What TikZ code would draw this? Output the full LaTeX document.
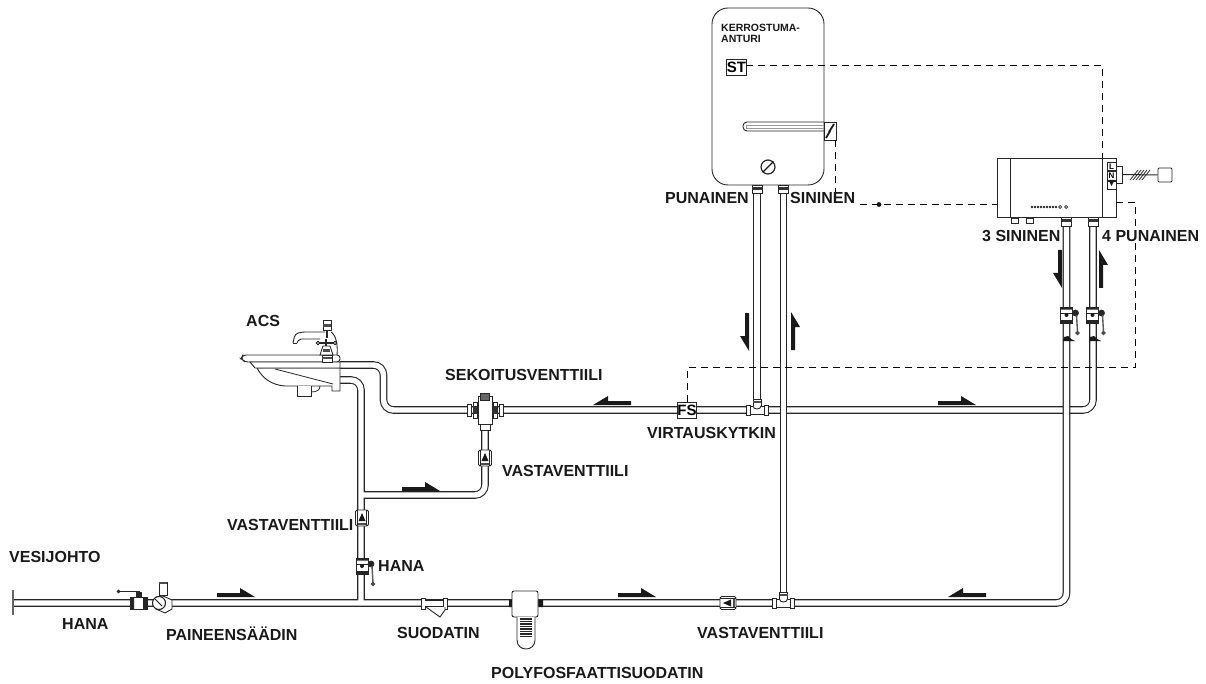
\documentclass[tikz,border=0pt]{standalone}
\usepackage{fontspec}
\setmainfont{Liberation Sans}
\usetikzlibrary{positioning}

\tikzset{
  pipe/.style={draw=black!85, line width=1.1pt, double=white, double distance=5.4pt, rounded corners=10pt},
  signal/.style={draw=black, line width=1pt, dash pattern=on 7pt off 5pt},
  part/.style={draw=black!85, line width=.9pt, fill=white},
  label/.style={font=\fontsize{16}{16}\selectfont\bfseries, inner sep=0pt, anchor=west, text=black!90},
  tag/.style={part, inner sep=0pt, font=\fontsize{15}{15}\selectfont\bfseries},
  term/.style={tag, font=\fontsize{8}{8}\selectfont\bfseries, minimum width=9pt, minimum height=8.5pt},
  pics/flowarrow/.style={code={
    \fill[black!90] (0,0) -- (0,-4) -- (23,-4) -- (23,-9) -- (38,0) -- cycle;
  }},
  pics/checkvalve/.style={code={
    \draw[part, rounded corners=1.5pt] (-6.5,-8) rectangle (6.5,8);
    \draw[line width=1.2pt, black!85] (-4.5,-8) -- (-4.5,8) (4.5,-8) -- (4.5,8);
    \fill[black!90] (0,-5) -- (3.5,3) -- (-3.5,3) -- cycle;
    \fill[black!70] (-4,4.5) rectangle (4,6.5);
  }},
  pics/ballvalve/.style={code={
    \draw[part] (-6,-8) rectangle (6,8);
    \fill[black!85] (-6,-8) rectangle (6,-5.5) (-6,5) rectangle (6,8);
    \draw[line width=.7pt, black!85] (-6,-2) -- (6,-2);
    \fill[black!90] (0,0) circle (2);
    \fill[black!85] (9,-2) circle (3.4);
    \draw[line width=1.4pt, black!65] (10,0) -- (11,17);
    \draw[fill=white, black!70, line width=.8pt] (11,18) circle (1.8);
  }},
  pics/teefit/.style={code={
    \draw[part] (-4,-11) rectangle (4,-2);
    \fill[black!70] (-4,-9) rectangle (4,-7);
    \fill[white] (-11,-4) rectangle (11,4);
    \draw[part] (-11,-5) rectangle (-7,5);
    \draw[part] (7,-5) rectangle (11,5);
    \draw[line width=.9pt, black!85] (-7,-4) -- (-4,-4) (4,-4) -- (7,-4) (-7,4) -- (7,4);
    \draw[line width=.9pt, black!85] (-4,-4) .. controls (-4,0) and (4,0) .. (4,-4);
  }},
}

\begin{document}
\begin{tikzpicture}[x=1pt, y=-1pt]
  \useasboundingbox (0,0) rectangle (1206,684);

  % Define pipe points
  \coordinate (inlet) at (13,603);
  \coordinate (inletA) at (13,590);
  \coordinate (inletB) at (13,615);
  \coordinate (hotout) at (340,365);
  \coordinate (hotdown) at (383.5,365);
  \coordinate (hotrun) at (383.5,410);
  \coordinate (hotend) at (1093,410);
  \coordinate (hotup) at (1093,220);
  \coordinate (coldout) at (340,380);
  \coordinate (colddown) at (361,380);
  \coordinate (coldtee) at (361,603);
  \coordinate (bypass) at (361,495);
  \coordinate (bypassbend) at (485,495);
  \coordinate (mixer) at (485,410);
  \coordinate (coldend) at (1066.5,603);
  \coordinate (coldup) at (1066.5,220);
  \coordinate (tankred) at (757,190);
  \coordinate (tankblue) at (783.5,190);
  \coordinate (tee1) at (757,410);
  \coordinate (tee2) at (783.5,603);

  % Define pipes
  \draw[pipe] (hotout) -- (hotdown) -- (hotrun) -- (hotend) -- (hotup);
  \draw[pipe] (inlet) -- (coldend) -- (coldup)
    (coldout) -- (colddown) -- (coldtee)
    (bypass) -- (bypassbend) -- (mixer);
  \draw[pipe] (tankred) -- (tee1);
  \draw[pipe] (tankblue) -- (tee2);
  \draw[line width=1.2pt, black!60] (inletA) -- (inletB);

  % Define tank
  \node[part, rounded corners=16pt, minimum width=112pt, minimum height=177pt] (tank) at (768,96.5) {};
  \node[tag, minimum width=19pt, minimum height=16pt] (st) at (736.5,67) {ST};
  \node[label, font=\fontsize{10.5}{11}\selectfont\bfseries, align=left, anchor=north west] (sensor) at (721,24) {KERROSTUMA-\\ANTURI};
  \draw[line width=.9pt, black!85, rounded corners=4pt] (824,122) -- (743,122) -- (743,131) -- (824,131);
  \draw[line width=.9pt, black!40] (824,125) -- (746,125) -- (746,128.5) -- (824,128.5);
  \node[part, minimum width=12pt, minimum height=18pt, inner sep=0pt] (heater) at (830,131) {};
  \draw[line width=1.8pt, black!90] (826,138) -- (830,131) (829,132) -- (834,124);
  \node[part, circle, minimum size=14pt, inner sep=0pt, line width=1.2pt] (gauge) at (768,167) {};
  \draw[line width=1.2pt, black!90] (gauge.south west) -- (gauge.north east);
  \foreach \x in {757,783.5} {
    \draw[part] (\x-5,185) rectangle (\x+5,193);
    \fill[black!80] (\x-5,187) rectangle (\x+5,190);
  }

  % Define control unit
  \node[part, minimum width=119pt, minimum height=59pt, inner sep=0pt] (ctrl) at (1056.5,187.5) {};
  \draw[line width=.9pt, black!85] (1010,158) -- (1010,217) (1102,158) -- (1102,217);
  \node[part, minimum width=6pt, minimum height=17pt, inner sep=0pt] (loop) at (1119,174.5) {};
  \node[term] (termL) at (1111.5,166.5) {L};
  \node[term, below=0pt of termL] (termN) {N};
  \node[term, below=0pt of termN] (termE) {};
  \fill[black!90] (1108.5,180) -- (1114.5,180) -- (1111.5,186) -- cycle;
  \node[part, rounded corners=1pt, minimum size=14pt, inner sep=0pt] (mains) at (1165,175) {};
  \draw[line width=1pt, black!85] (loop.east) -- (mains.west);
  \foreach \i in {0,...,4} {
    \draw[line width=.8pt, black!85] (1130+3*\i,180) -- (1138+3*\i,170);
  }
  \foreach \x in {1032,1035,...,1056} {
    \fill[black!85] (\x,207) circle (1.3);
  }
  \draw[black!85, line width=.7pt] (1060,207) circle (1.5) (1066,207) circle (1.5);
  \foreach \x in {1015,1029.5} {
    \draw[part] (\x-3.5,217) rectangle (\x+3.5,223);
    \fill[black!80] (\x-3,217) rectangle (\x+3,219.5);
  }
  \foreach \x in {1066.5,1093} {
    \draw[part] (\x-5,217) rectangle (\x+5,226);
    \fill[black!80] (\x-5,219) rectangle (\x+5,222);
  }

  % Define signal lines
  \coordinate (sigtop) at (1102.5,65.5);
  \coordinate (sigbox) at (1102.5,158);
  \coordinate (sigfs) at (1135.5,202.5);
  \coordinate (sigfs2) at (1135.5,367.5);
  \coordinate (sigfs3) at (687.5,367.5);
  \coordinate (sigheat) at (835.5,192);
  \coordinate (sigleft) at (860,204.5);
  \coordinate (sigctrl) at (997,204.5);
  \coordinate (sigdot) at (879,204.5);
  \coordinate (sigout) at (1116,202.5);
  \coordinate (sigst) at (746,65.5);
  \node[tag, minimum width=19pt, minimum height=16pt] (fs) at (687,410) {FS};
  \draw[signal] (sigst) -- (sigtop) -- (sigbox);
  \draw[signal] (heater.south -| sigheat) -- (sigheat);
  \draw[signal] (sigleft) -- (sigctrl);
  \fill[black!90] (sigdot) circle (2.4);
  \draw[signal] (sigout) -- (sigfs) -- (sigfs2) -- (sigfs3) -- (fs.north -| sigfs3);

  % Define basin and tap
  \draw[part] (257,368) .. controls (263,379) and (272,385) .. (285,386) -- (332,386) -- (332,391) -- (340,391) -- (340,368) -- cycle;
  \draw[part, rounded corners=3pt] (340,355) -- (243,355) -- (241,358.5) -- (245,362) -- (340,362) -- cycle;
  \draw[part] (250,362) -- (255,368) -- (340,368) -- (340,362) -- cycle;
  \draw[line width=.8pt, black!85] (275,369) -- (333,384);
  \draw[part] (297,386) -- (297,396) -- (311,396) -- (311,386);
  \draw[line width=.8pt, black!85] (311,392) .. controls (317,392) and (320,390) .. (320,386);
  \draw[line width=.9pt, black!85, rounded corners=3pt] (293,343) -- (295,334) -- (302,332) -- (325,332);
  \draw[line width=.9pt, black!85, rounded corners=2pt] (297,343) -- (299,339) -- (320,339);
  \draw[line width=.9pt, black!85] (293,343) -- (297,343);
  \draw[part] (323,320) rectangle (331,330);
  \fill[black!70] (323,324) rectangle (331,327);
  \draw[line width=1.4pt, black!85] (327,330) -- (327,338);
  \draw[line width=.9pt, black!85] (331,332) .. controls (336,335) and (338,345) .. (337,355);
  \draw[line width=1.3pt, black!85] (319,343) -- (334,343) (326,339) -- (326,346);
  \draw[black!90, fill=white, line width=.8pt] (318,343) circle (1.8) (335,343) circle (1.8);
  \draw[part] (320,355) -- (323,346) -- (330,346) -- (333,355) -- cycle;
  \fill[black!70] (323,349) rectangle (330,352);
  \draw[part] (322,355) rectangle (332,362);
  \fill[black!70] (322,357) rectangle (332,359);

  % Define mixer
  \node[part, minimum width=14pt, minimum height=28pt, inner sep=0pt] (mix) at (mixer) {};
  \node[part, minimum width=9pt, minimum height=7pt, inner sep=0pt, fill=black!60] (mixtop) at (485,397) {};
  \foreach \x in {-18,14} {
    \draw[part] (485+\x,404) rectangle (485+\x+4,416);
  }
  \foreach \x in {-12,8} {
    \draw[part] (485+\x,402) rectangle (485+\x+4,418);
    \fill[black!80] (485+\x,406) rectangle (485+\x+4,414);
  }
  \draw[part] (480,424) rectangle (490,430);

  % Define valves on cold line
  \pic at (485,458) {checkvalve};
  \pic at (362,518) {checkvalve};
  \pic at (362,566) {ballvalve};
  \pic at (1066.5,315) {ballvalve};
  \pic at (1092.5,315) {ballvalve};
  \fill[black!90] (1063,341) -- (1064,337) -- (1068,336) -- (1071,339) -- (1075,341) -- cycle;
  \fill[black!90] (1089,341) -- (1090,337) -- (1094,336) -- (1097,339) -- (1101,341) -- cycle;
  \pic[rotate=90] at (728,603) {checkvalve};
  \pic at (757,410) {teefit};
  \pic at (783.5,603) {teefit};

  % Define inlet valve and reducer
  \draw[part] (130,597) rectangle (147,609);
  \fill[black!85] (131,597) rectangle (134,609) (143,597) rectangle (147,609);
  \fill[black!85] (136,592) rectangle (142,597);
  \draw[line width=.9pt, black!85] (120,591.5) -- (140,591.5);
  \draw[fill=white, black!85] (118.5,591.5) circle (1.6);
  \draw[part] (159,582) rectangle (167,595);
  \fill[black!70] (159,582) rectangle (167,584);
  \draw[part] (163,596) -- (172,600) -- (172,609) -- (165,613) -- (156,609) -- (153,603) -- (156,597) -- cycle;
  \node[part, circle, minimum size=13pt, inner sep=0pt, line width=1.1pt] (reducer) at (159,603) {};
  \draw[line width=1pt, black!90] (155,599) -- (162,606);

  % Define filters
  \draw[part] (421,598) rectangle (425,609);
  \draw[part] (443,598) rectangle (447,609);
  \fill[white] (425,600) rectangle (443,606);
  \draw[part] (426,607) -- (440,617) -- (445,610) -- (445,607);
  \draw[line width=.9pt, black!85] (425,600) -- (443,600);
  \fill[black!90] (509,600) rectangle (513,607) (538,600) rectangle (543,607);
  \node[part, rounded corners=2pt, minimum width=26pt, minimum height=26pt, inner sep=0pt] (polyhead) at (525,604) {};
  \draw[part] (517,617) -- (517,640) .. controls (517,652) and (535,652) .. (535,640) -- (535,617);
  \foreach \y in {619,621.5,...,636.5} {
    \draw[line width=1.3pt, black!85] (520,\y) -- (532,\y);
  }

  % Define flow arrows
  \pic at (217,597) {flowarrow};
  \pic at (402,491) {flowarrow};
  \pic[xscale=-1] at (631,405) {flowarrow};
  \pic at (938,405) {flowarrow};
  \pic at (618,597) {flowarrow};
  \pic[xscale=-1] at (986,597) {flowarrow};
  \pic[rotate=-90,yscale=-1] at (749,313) {flowarrow};
  \pic[rotate=90,yscale=-1] at (791,350) {flowarrow};
  \pic[rotate=-90,yscale=-1] at (1062,250) {flowarrow};
  \pic[rotate=90,yscale=-1] at (1099,288) {flowarrow};

  % Define labels
  \node[label] (lblacs) at (246,321) {ACS};
  \node[label] (lblmixer) at (445,375) {SEKOITUSVENTTIILI};
  \node[label] (lblcheck1) at (502,471) {VASTAVENTTIILI};
  \node[label] (lblcheck2) at (227,525) {VASTAVENTTIILI};
  \node[label] (lblcheck3) at (697,633) {VASTAVENTTIILI};
  \node[label] (lblhana1) at (378,566) {HANA};
  \node[label] (lblhana2) at (62,624) {HANA};
  \node[label] (lblmains) at (9,557) {VESIJOHTO};
  \node[label] (lblreducer) at (166,634) {PAINEENSÄÄDIN};
  \node[label] (lblstrainer) at (397,633) {SUODATIN};
  \node[label] (lblpoly) at (491,673) {POLYFOSFAATTISUODATIN};
  \node[label] (lblfs) at (647,433) {VIRTAUSKYTKIN};
  \node[label] (lblred) at (665,198) {PUNAINEN};
  \node[label] (lblblue) at (790,198) {SININEN};
  \node[label] (lbl3) at (982,236) {3 SININEN};
  \node[label] (lbl4) at (1102,236) {4 PUNAINEN};
\end{tikzpicture}
\end{document}
